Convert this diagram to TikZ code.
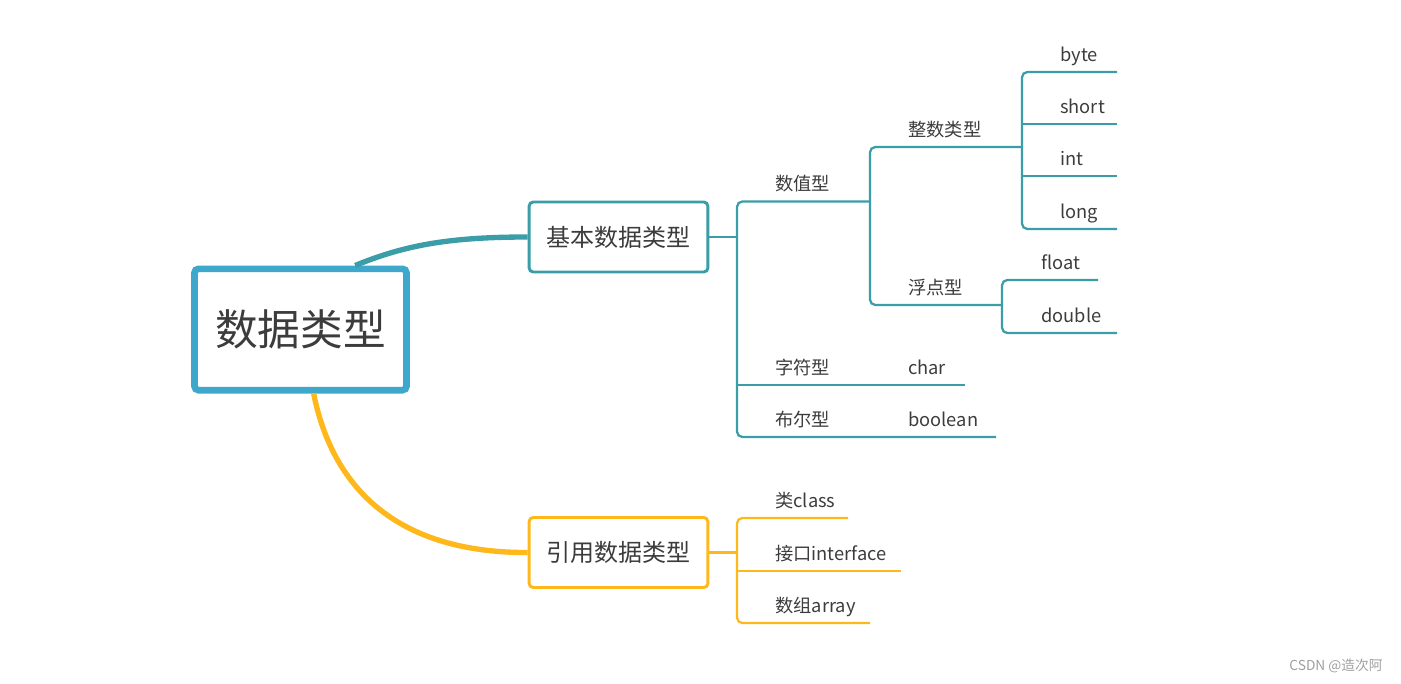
\documentclass[tikz,border=0pt]{standalone}
\usepackage{fontspec}
\setmainfont{Noto Sans CJK SC}
\usepackage{tikz}
\usetikzlibrary{calc}
\definecolor{tealc}{RGB}{58,157,168}
\definecolor{rootc}{RGB}{61,168,204}
\definecolor{orangec}{RGB}{255,184,28}
\definecolor{txtc}{RGB}{60,60,60}

\begin{document}
\begin{tikzpicture}[x=0.75pt,y=-0.75pt,
    rootbox/.style={draw=rootc,line width=5pt,rounded corners=3pt,fill=white,minimum width=159pt,minimum height=91pt,font=\fontsize{32}{36}\selectfont,text=txtc},
    subbox/.style={line width=2.2pt,rounded corners=3pt,fill=white,minimum width=134pt,minimum height=52.5pt,font=\fontsize{18}{21}\selectfont,text=txtc},
    leaf/.style={anchor=base west,inner sep=0pt,font=\fontsize{13.7}{16}\selectfont,text=txtc},
    tline/.style={draw=tealc,line width=1.7pt},
    oline/.style={draw=orangec,line width=1.7pt}]
        \useasboundingbox (0,0) rectangle (1401,684);

        %main boxes
        \node[rootbox] (root) at (300.5,329.5) {数据类型};
        \node[subbox,draw=tealc] (basic) at (618.5,237) {基本数据类型};
        \node[subbox,draw=orangec] (refb) at (618.5,552.5) {引用数据类型};

        %curves from the root
        \draw[tealc,line width=4pt] ($(root.north west)!0.75!(root.north east)$) .. controls (405,245) and (450,237) .. (basic.west);
        \draw[orangec,line width=4pt] ($(root.south west)!0.56!(root.south east)$) .. controls (335,500) and (410,553) .. (refb.west);

        %ends of the teal lines
        \coordinate (bJ) at (737,237);
        \coordinate (numE) at (870,201.5);
        \coordinate (intE) at (1022,147);
        \coordinate (fltE) at (1002,305);
        \coordinate (chrE) at (965,385);
        \coordinate (boolE) at (996,437);
        \coordinate (byteE) at (1117,72);
        \coordinate (shortE) at (1117,124);
        \coordinate (intvE) at (1117,176);
        \coordinate (longE) at (1117,229);
        \coordinate (floatE) at (1098,280);
        \coordinate (doubleE) at (1117,333);

        \draw[tline] (basic.east) -- (bJ);
        \draw[tline,rounded corners=4pt] (numE) -| (bJ |- boolE) -- (boolE);
        \draw[tline] (bJ |- chrE) -- (chrE);
        \draw[tline,rounded corners=4pt] (intE) -| (numE |- fltE) -- (fltE);
        \draw[tline,rounded corners=4pt] (byteE) -| (intE |- longE) -- (longE);
        \draw[tline] (intE |- shortE) -- (shortE);
        \draw[tline] (intE |- intvE) -- (intvE);
        \draw[tline,rounded corners=4pt] (floatE) -| (fltE |- doubleE) -- (doubleE);

        \node[leaf] (num) at (775,191) {数值型};
        \node[leaf] (chr) at (775,374.5) {字符型};
        \node[leaf] (bool) at (775,426.5) {布尔型};
        \node[leaf] (int) at (908,136.5) {整数类型};
        \node[leaf] (flt) at (908,294.5) {浮点型};
        \node[leaf] (charv) at (908,374.5) {char};
        \node[leaf] (boolv) at (908,426.5) {boolean};
        \node[leaf] (byte) at (1060,61.5) {byte};
        \node[leaf] (short) at (1060,113.5) {short};
        \node[leaf] (intv) at (1060,165.5) {int};
        \node[leaf] (long) at (1060,218.5) {long};
        \node[leaf] (float) at (1041,269.5) {float};
        \node[leaf] (double) at (1041,322.5) {double};

        %ends of the orange lines
        \coordinate (rJ) at (737,552.5);
        \coordinate (clsE) at (848,518);
        \coordinate (ifcE) at (901,571);
        \coordinate (arrE) at (870,623);

        \draw[oline] (refb.east) -- (rJ);
        \draw[oline,rounded corners=4pt] (clsE) -| (rJ |- arrE) -- (arrE);
        \draw[oline] (rJ |- ifcE) -- (ifcE);

        \node[leaf] (cls) at (775,507.5) {类class};
        \node[leaf] (ifc) at (775,560.5) {接口interface};
        \node[leaf] (arr) at (775,612.5) {数组array};

        \node[font=\fontsize{10.3}{12}\selectfont,text=gray!75] (mark) at (1336,666) {CSDN @造次阿};
    \end{tikzpicture}
\end{document}
